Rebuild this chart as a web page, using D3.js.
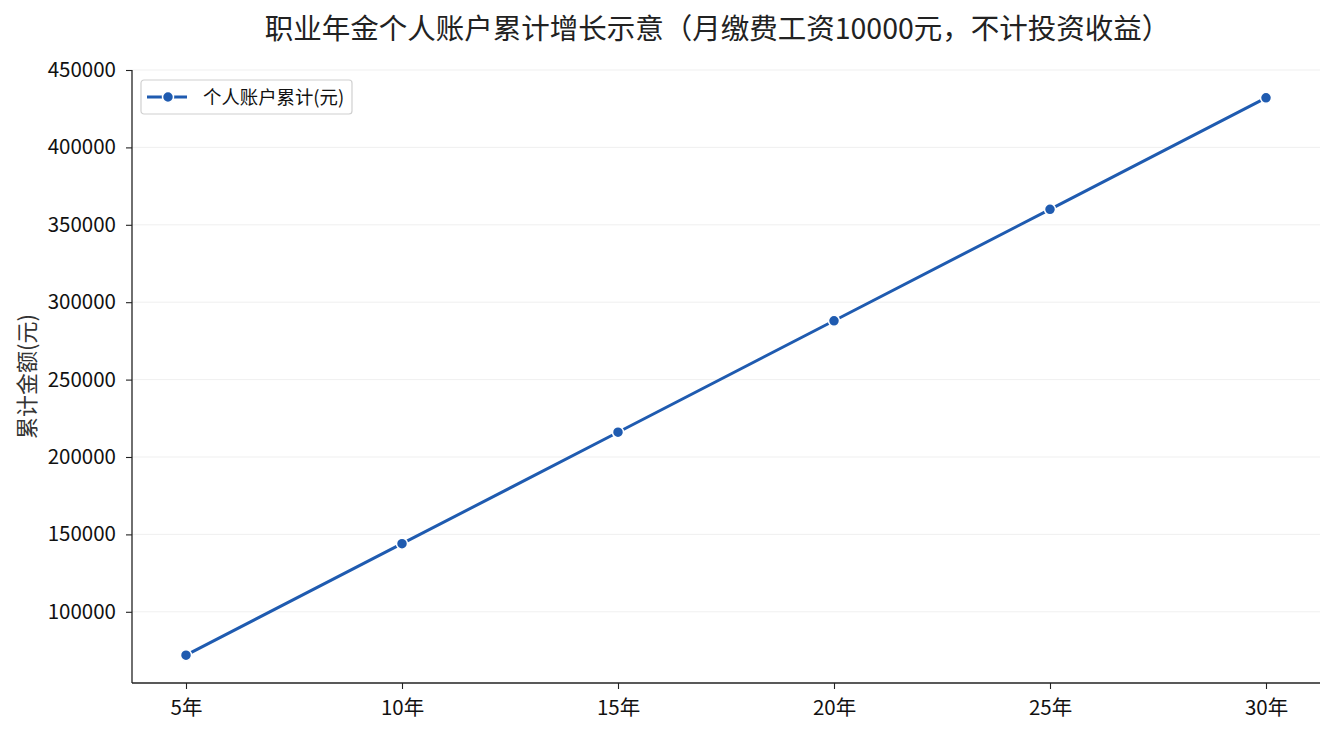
<html>
<script src="https://d3js.org/d3.v7.min.js"></script>
<body style="margin:0;background:#fff">
<div id="chart"></div>
<script>
// data
const years = ["5年", "10年", "15年", "20年", "25年", "30年"];
const balance = [72000, 144000, 216000, 288000, 360000, 432000];
const yTicks = [100000, 150000, 200000, 250000, 300000, 350000, 400000, 450000];

const W = 1334, H = 735;
const m = {left: 132, right: 14, top: 70, bottom: 52};
const font = "'Noto Sans CJK SC', 'Noto Sans', sans-serif";
const blue = "#1f5bb0";

const svg = d3.select("#chart").append("svg")
    .attr("width", W).attr("height", H)
    .style("font-family", font);

const x = d3.scaleLinear().domain([-0.25, 5.25]).range([m.left, W - m.right]);
const y = d3.scaleLinear().domain([54000, 450000]).range([H - m.bottom, m.top]);

// grid
svg.append("g").selectAll("line").data(yTicks).join("line")
    .attr("x1", m.left).attr("x2", W - m.right)
    .attr("y1", d => y(d)).attr("y2", d => y(d))
    .attr("stroke", "#ebebeb").attr("stroke-width", 0.8);

// axes
const xAxis = svg.append("g")
    .attr("transform", `translate(0,${H - m.bottom})`)
    .call(d3.axisBottom(x).tickValues(d3.range(years.length)).tickFormat(i => years[i]).tickSize(6).tickPadding(11));
const yAxis = svg.append("g")
    .attr("transform", `translate(${m.left},0)`)
    .call(d3.axisLeft(y).tickValues(yTicks).tickFormat(d3.format("d")).tickSize(6).tickPadding(10));
[xAxis, yAxis].forEach(a => {
    a.select(".domain").attr("stroke", "#222").attr("stroke-width", 1.3);
    a.selectAll(".tick line").attr("stroke", "#222").attr("stroke-width", 1.1);
    a.selectAll("text").attr("font-size", 20.5).attr("fill", "#111").style("font-family", font);
});
// spines: full length, no outer ticks
xAxis.select(".domain").attr("d", `M${m.left},0H${W - m.right}`);
yAxis.select(".domain").attr("d", `M0,${m.top}V${H - m.bottom}`);

// line + points
const line = d3.line().x((d, i) => x(i)).y(d => y(d));
svg.append("path").datum(balance)
    .attr("d", line).attr("fill", "none")
    .attr("stroke", blue).attr("stroke-width", 3);
svg.append("g").selectAll("circle").data(balance).join("circle")
    .attr("cx", (d, i) => x(i)).attr("cy", d => y(d)).attr("r", 5.5)
    .attr("fill", blue).attr("stroke", "#fff").attr("stroke-width", 1.5);

// title
svg.append("text")
    .attr("x", 717.5).attr("y", 39)
    .attr("text-anchor", "middle").attr("font-size", 28.5).attr("fill", "#222")
    .text("职业年金个人账户累计增长示意（月缴费工资10000元，不计投资收益）");

// y label
svg.append("text")
    .attr("transform", `translate(35,${(m.top + H - m.bottom) / 2}) rotate(-90)`)
    .attr("text-anchor", "middle").attr("font-size", 22).attr("fill", "#333")
    .text("累计金额(元)");

// legend
const lg = svg.append("g").attr("transform", "translate(141,80)");
lg.append("rect").attr("width", 211).attr("height", 34).attr("rx", 3)
    .attr("fill", "#fff").attr("stroke", "#d0d0d0").attr("stroke-width", 1.2);
lg.append("line").attr("x1", 6).attr("x2", 46).attr("y1", 17).attr("y2", 17)
    .attr("stroke", blue).attr("stroke-width", 3);
lg.append("circle").attr("cx", 27).attr("cy", 17).attr("r", 5.5)
    .attr("fill", blue).attr("stroke", "#fff").attr("stroke-width", 1.5);
lg.append("text").attr("x", 62).attr("y", 23.5).attr("font-size", 18.4).attr("fill", "#111")
    .text("个人账户累计(元)");
</script>
</body>
</html>
